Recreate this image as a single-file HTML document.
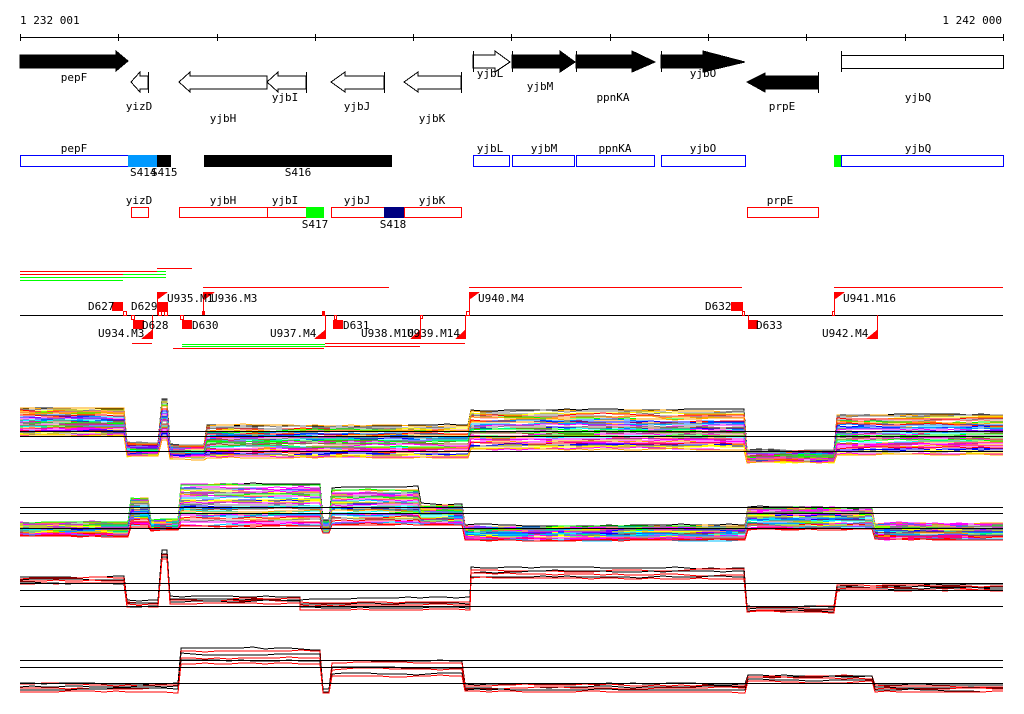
<!DOCTYPE html>
<html><head><meta charset="utf-8"><style>
html,body{margin:0;padding:0;background:#fff;width:1024px;height:714px;overflow:hidden}
svg{display:block}
text{font-family:"DejaVu Sans Mono","Liberation Mono",monospace;font-size:11px;fill:#000}
</style></head><body>
<svg id="s" width="1024" height="714" viewBox="0 0 1024 714" xmlns="http://www.w3.org/2000/svg" shape-rendering="crispEdges">
<rect width="1024" height="714" fill="#fff"/>
<text x="20" y="24">1 232 001</text>
<text x="1002" y="24" text-anchor="end">1 242 000</text>
<line x1="20" y1="37.5" x2="1003" y2="37.5" stroke="#000"/>
<g stroke="#000">
<line x1="20.5" y1="34" x2="20.5" y2="41"/><line x1="118.5" y1="34" x2="118.5" y2="41"/><line x1="217.5" y1="34" x2="217.5" y2="41"/><line x1="315.5" y1="34" x2="315.5" y2="41"/><line x1="413.5" y1="34" x2="413.5" y2="41"/><line x1="511.5" y1="34" x2="511.5" y2="41"/><line x1="610.5" y1="34" x2="610.5" y2="41"/><line x1="708.5" y1="34" x2="708.5" y2="41"/><line x1="806.5" y1="34" x2="806.5" y2="41"/><line x1="905.5" y1="34" x2="905.5" y2="41"/><line x1="1003.5" y1="34" x2="1003.5" y2="41"/>
</g>
<g fill="#000" stroke="#000">
<polygon points="20,55 116,55 116,51 128,61 116,71 116,68 20,68"/>
<polygon points="512,55 560,55 560,51 575,62 560,72 560,68 512,68"/>
<polygon points="576,55 632,55 632,51 655,62 632,72 632,68 576,68"/>
<polygon points="661,55 703,55 703,51 745,62 703,72 703,68 661,68"/>
<polygon points="818,76 765,76 765,73 747,82 765,92 765,89 818,89"/>
</g>
<g fill="#fff" stroke="#000">
<polygon points="148,76 140,76 140,72 131,82 140,92 140,89 148,89"/>
<polygon points="267,76 190,76 190,72 179,82 190,92 190,89 267,89"/>
<polygon points="306,76 278,76 278,72 267,82 278,92 278,89 306,89"/>
<polygon points="384,76 345,76 345,72 331,82 345,92 345,89 384,89"/>
<polygon points="461,76 418,76 418,72 404,82 418,92 418,89 461,89"/>
<polygon points="473,55 495,55 495,51 510,62 495,72 495,68 473,68"/>
<rect x="841.5" y="55.5" width="162" height="13"/>
</g>
<g stroke="#000">
<line x1="148.5" y1="72" x2="148.5" y2="93"/><line x1="306.5" y1="72" x2="306.5" y2="93"/><line x1="384.5" y1="72" x2="384.5" y2="93"/><line x1="461.5" y1="72" x2="461.5" y2="93"/><line x1="818.5" y1="72" x2="818.5" y2="93"/>
<line x1="473.5" y1="51" x2="473.5" y2="72"/><line x1="512.5" y1="51" x2="512.5" y2="72"/><line x1="576.5" y1="51" x2="576.5" y2="72"/><line x1="661.5" y1="51" x2="661.5" y2="72"/><line x1="841.5" y1="51" x2="841.5" y2="72"/>
</g>
<text x="74" y="81" text-anchor="middle">pepF</text>
<text x="139" y="110" text-anchor="middle">yizD</text>
<text x="223" y="122" text-anchor="middle">yjbH</text>
<text x="285" y="101" text-anchor="middle">yjbI</text>
<text x="357" y="110" text-anchor="middle">yjbJ</text>
<text x="432" y="122" text-anchor="middle">yjbK</text>
<text x="490" y="77" text-anchor="middle">yjbL</text>
<text x="540" y="90" text-anchor="middle">yjbM</text>
<text x="613" y="101" text-anchor="middle">ppnKA</text>
<text x="703" y="77" text-anchor="middle">yjbO</text>
<text x="782" y="110" text-anchor="middle">prpE</text>
<text x="918" y="101" text-anchor="middle">yjbQ</text>
<g fill="#fff" stroke="#0000ff">
<rect x="20.5" y="155.5" width="108" height="11"/>
<rect x="473.5" y="155.5" width="36" height="11"/>
<rect x="512.5" y="155.5" width="62" height="11"/>
<rect x="576.5" y="155.5" width="78" height="11"/>
<rect x="661.5" y="155.5" width="84" height="11"/>
<rect x="841.5" y="155.5" width="162" height="11"/>
</g>
<rect x="128" y="155" width="29" height="12" fill="#0099ff"/>
<rect x="157" y="155" width="14" height="12" fill="#000"/>
<rect x="204" y="155" width="188" height="12" fill="#000"/>
<rect x="834" y="155" width="7" height="12" fill="#00ff00"/>
<text x="74" y="152" text-anchor="middle">pepF</text>
<text x="490" y="152" text-anchor="middle">yjbL</text>
<text x="544" y="152" text-anchor="middle">yjbM</text>
<text x="615" y="152" text-anchor="middle">ppnKA</text>
<text x="703" y="152" text-anchor="middle">yjbO</text>
<text x="918" y="152" text-anchor="middle">yjbQ</text>
<text x="130" y="176">S414</text><text x="151" y="176">S415</text>
<text x="298" y="176" text-anchor="middle">S416</text>
<g fill="#fff" stroke="#ff0000">
<rect x="131.5" y="207.5" width="17" height="10"/>
<rect x="179.5" y="207.5" width="88" height="10"/>
<rect x="267.5" y="207.5" width="39" height="10"/>
<rect x="331.5" y="207.5" width="53" height="10"/>
<rect x="404.5" y="207.5" width="57" height="10"/>
<rect x="747.5" y="207.5" width="71" height="10"/>
</g>
<rect x="306" y="207" width="18" height="11" fill="#00ff00"/>
<rect x="384" y="207" width="20" height="11" fill="#000080"/>
<text x="139" y="204" text-anchor="middle">yizD</text>
<text x="223" y="204" text-anchor="middle">yjbH</text>
<text x="285" y="204" text-anchor="middle">yjbI</text>
<text x="357" y="204" text-anchor="middle">yjbJ</text>
<text x="432" y="204" text-anchor="middle">yjbK</text>
<text x="780" y="204" text-anchor="middle">prpE</text>
<text x="315" y="228" text-anchor="middle">S417</text>
<text x="393" y="228" text-anchor="middle">S418</text>
<g stroke-width="1">
<line x1="157" y1="268.5" x2="192" y2="268.5" stroke="#f00"/>
<line x1="20" y1="271.5" x2="157" y2="271.5" stroke="#f00"/>
<line x1="157" y1="271.5" x2="166" y2="271.5" stroke="#0f0"/>
<line x1="20" y1="274.5" x2="123" y2="274.5" stroke="#f00"/>
<line x1="123" y1="274.5" x2="166" y2="274.5" stroke="#0f0"/>
<line x1="20" y1="277.5" x2="166" y2="277.5" stroke="#0f0"/>
<line x1="20" y1="280.5" x2="123" y2="280.5" stroke="#0f0"/>
<line x1="203" y1="287.5" x2="389" y2="287.5" stroke="#f00"/>
<line x1="469" y1="287.5" x2="742" y2="287.5" stroke="#f00"/>
<line x1="834" y1="287.5" x2="1003" y2="287.5" stroke="#f00"/>
<line x1="132" y1="343.5" x2="152" y2="343.5" stroke="#f00"/>
<line x1="325" y1="343.5" x2="465" y2="343.5" stroke="#f00"/>
<line x1="182" y1="344.5" x2="325" y2="344.5" stroke="#0f0"/>
<line x1="182" y1="346.5" x2="325" y2="346.5" stroke="#0f0"/>
<line x1="325" y1="346.5" x2="420" y2="346.5" stroke="#f00"/>
<line x1="173" y1="348.5" x2="324" y2="348.5" stroke="#f00"/>
</g>
<line x1="20" y1="315.5" x2="1003" y2="315.5" stroke="#000"/>
<g fill="#f00" stroke="none">
<rect x="112" y="302" width="11" height="9"/><rect x="157" y="302" width="11" height="10"/>
<rect x="133" y="320" width="11" height="9"/><rect x="182" y="320" width="10" height="9"/>
<rect x="333" y="320" width="10" height="9"/><rect x="731" y="302" width="11" height="9"/>
<rect x="748" y="320" width="10" height="9"/>
<polygon points="157,292 168,292 157,300"/><polygon points="204,292 215,292 204,300"/>
<polygon points="469,292 480,292 469,300"/><polygon points="834,292 845,292 834,300"/>
<polygon points="152,339 152,330 141,339"/><polygon points="325,339 325,330 314,339"/>
<polygon points="420,339 420,330 410,339"/><polygon points="465,339 465,330 455,339"/>
<polygon points="877,339 877,330 866,339"/>
<rect x="202" y="311" width="3" height="4"/><rect x="322" y="311" width="3" height="5"/>
</g>
<g stroke="#f00" fill="none">
<line x1="157.5" y1="292" x2="157.5" y2="315"/><line x1="203.5" y1="292" x2="203.5" y2="315"/>
<line x1="469.5" y1="292" x2="469.5" y2="315"/><line x1="834.5" y1="292" x2="834.5" y2="315"/>
<line x1="152.5" y1="315" x2="152.5" y2="339"/><line x1="325.5" y1="315" x2="325.5" y2="339"/>
<line x1="420.5" y1="315" x2="420.5" y2="339"/><line x1="465.5" y1="315" x2="465.5" y2="339"/>
<line x1="877.5" y1="315" x2="877.5" y2="339"/><line x1="742.5" y1="302" x2="742.5" y2="315"/><line x1="748.5" y1="315" x2="748.5" y2="320"/>
<rect x="123.5" y="311.5" width="3" height="4"/><rect x="131.5" y="315.5" width="3" height="4"/>
<rect x="158.5" y="311.5" width="3" height="4"/><rect x="164.5" y="311.5" width="3" height="4"/>
<rect x="180.5" y="315.5" width="3" height="4"/><rect x="334.5" y="315.5" width="2" height="4"/>
<rect x="420.5" y="315.5" width="2" height="3"/><rect x="466.5" y="311.5" width="3" height="4"/>
<rect x="742.5" y="311.5" width="2" height="4"/><rect x="832.5" y="311.5" width="2" height="4"/>
</g>
<text x="88" y="310">D627</text><text x="131" y="310">D629</text>
<text x="167" y="302">U935.M1</text><text x="211" y="302">U936.M3</text>
<text x="142" y="329">D628</text><text x="192" y="329">D630</text>
<text x="98" y="337">U934.M3</text><text x="270" y="337">U937.M4</text>
<text x="343" y="329">D631</text><text x="361" y="337">U938.M10</text><text x="407" y="337">U939.M14</text>
<text x="478" y="302">U940.M4</text><text x="705" y="310">D632</text><text x="756" y="329">D633</text>
<text x="843" y="302">U941.M16</text><text x="822" y="337">U942.M4</text>
<g id="plots"></g>
<g stroke="#000">
<line x1="20" y1="431.5" x2="1003" y2="431.5"/><line x1="20" y1="436.5" x2="1003" y2="436.5"/><line x1="20" y1="451.5" x2="1003" y2="451.5"/>
<line x1="20" y1="507.5" x2="1003" y2="507.5"/><line x1="20" y1="513.5" x2="1003" y2="513.5"/><line x1="20" y1="528.5" x2="1003" y2="528.5"/>
<line x1="20" y1="583.5" x2="1003" y2="583.5"/><line x1="20" y1="590.5" x2="1003" y2="590.5"/><line x1="20" y1="606.5" x2="1003" y2="606.5"/>
<line x1="20" y1="660.5" x2="1003" y2="660.5"/><line x1="20" y1="667.5" x2="1003" y2="667.5"/><line x1="20" y1="683.5" x2="1003" y2="683.5"/>
</g>
</svg>
<script>
(function(){
var seed=7;function r(){seed=(seed*16807)%2147483647;return seed/2147483647;}
var g=document.getElementById('plots');var NS='http://www.w3.org/2000/svg';
var cols=['#ff0000','#00ff00','#0000ff','#ff00ff','#00ffff','#ffa500','#808080','#a0522d','#0080ff','#ffff00','#ff00ff','#ff8080','#808080','#00c0ff'];
function panel(segs,n,colfn,amp){
 for(var i=0;i<n;i++){
  var f=(i+r()*0.8)/n,pts=[],c=colfn(i,n),w=0;
  for(var s=0;s<segs.length;s++){
   var S=segs[s],y=S[2]+(S[3]-S[2])*f;
   for(var x=S[0];x<S[1];x+=12){
     w+= (r()-0.5)*amp; w*=0.8;
     pts.push(x+','+Math.round(y+w));
   }
   pts.push(S[1]+','+Math.round(y+w));
  }
  var p=document.createElementNS(NS,'polyline');
  p.setAttribute('points',pts.join(' '));p.setAttribute('fill','none');p.setAttribute('stroke',c);p.setAttribute('stroke-width','1');
  g.appendChild(p);
 }
}
function rc(i,n){return i==0?'#000':cols[Math.floor(r()*cols.length)];}
panel([[20,124,408,436],[127,158,442,456],[162,167,398,440],[170,204,444,458],[207,468,425,458],[471,744,410,450],[747,834,450,462],[837,1003,414,455]],45,rc,2);
panel([[20,128,522,536],[131,148,497,526],[151,178,520,530],[181,320,483,527],[323,329,520,533],[332,418,488,525],[421,462,505,525],[465,745,526,540],[748,872,507,530],[875,1003,523,540]],45,rc,2);
function bk(i){return i%2?'#f00':'#000';}
panel([[20,124,576,585],[127,158,600,608],[162,167,550,560],[170,300,596,605],[300,470,598,612],[471,744,567,580],[747,834,606,613],[837,1003,584,592]],6,bk,2);
panel([[20,178,683,692],[181,320,648,664],[323,329,688,693],[332,462,660,677],[465,745,684,692],[748,872,675,681],[875,1003,684,692]],6,bk,2);
})();
</script>
</body></html>
